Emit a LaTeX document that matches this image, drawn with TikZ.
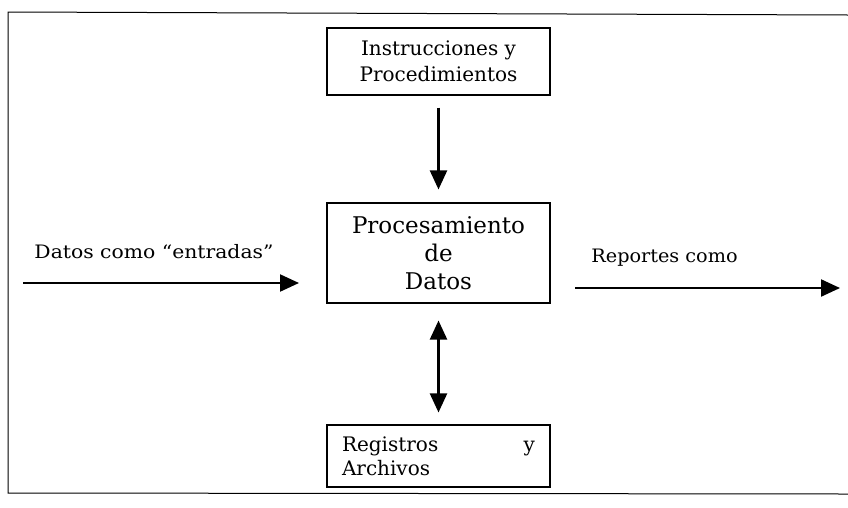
\documentclass[tikz,border=0pt]{standalone}
\usepackage{graphicx}
\usepackage{fontspec}
\setmainfont{DejaVu Serif}
\usetikzlibrary{arrows.meta}
\newcommand{\hs}[2][1.0]{\scalebox{#1}[1]{#2}}
\tikzset{
  frameline/.style={line width=1pt, draw=black},
  boxnode/.style={draw, line width=1.1pt, inner sep=0pt},
  arr/.style={line width=2.2pt, -{Triangle[length=19pt,width=17pt]}},
  darr/.style={line width=2.2pt, {Triangle[length=19pt,width=17pt]}-{Triangle[length=19pt,width=17pt]}},
  lbl/.style={inner sep=0pt, anchor=base, font=\fontsize{18.5}{22}\selectfont}
}
\begin{document}
\begin{tikzpicture}[x=1pt,y=-1pt]
\useasboundingbox (0,0) rectangle (848,507);
\draw[frameline] (848,15) -- (8,12) -- (8,493) -- (848,494);

\node[boxnode, minimum width=223pt, minimum height=67pt, align=center,
      font=\fontsize{20}{26}\selectfont] (instr) at (438.5,61.5)
      {Instrucciones y\\Procedimientos};

\node[boxnode, minimum width=223pt, minimum height=100pt, align=center,
      font=\fontsize{23}{28}\selectfont] (proc) at (438.5,253)
      {Procesamiento\\de\\Datos};

\node[boxnode, minimum height=62pt, inner xsep=15pt, text width=193pt, align=left,
      font=\fontsize{20}{24}\selectfont] (reg) at (438.5,456)
      {Registros\hfill y\\Archivos};

\node[lbl] (inlbl) at (154,258) {\hs[1.1]{Datos como “entradas”}};
\node[lbl] (outlbl) at (664.5,262) {\hs[1.04]{Reportes como}};

\coordinate (inA) at (23,283);
\coordinate (inB) at (299,283);
\coordinate (outA) at (575,288);
\coordinate (outB) at (840,288);

\draw[arr] (inA) -- (inB);
\draw[arr] (outA) -- (outB);
\draw[arr, shorten <=12pt, shorten >=13pt] (instr.south) -- (proc.north);
\draw[darr, shorten <=17pt, shorten >=12pt] (proc.south) -- (reg.north);
\end{tikzpicture}
\end{document}
